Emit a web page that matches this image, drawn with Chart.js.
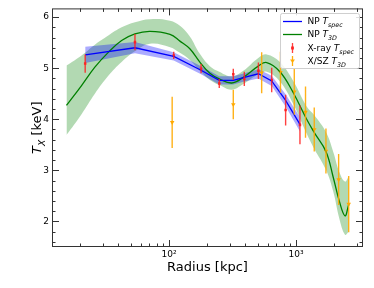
<!DOCTYPE html>
<html><head><meta charset="utf-8">
<script src="https://cdn.jsdelivr.net/npm/chart.js@4.4.1/dist/chart.umd.min.js"></script>
<style>html,body{margin:0;padding:0;background:#fff}canvas{display:block}</style>
</head><body>
<canvas id="c" width="374" height="288"></canvas>
<script>
// ---- data ----
const xrayR   = [21.9, 54, 109, 179, 249, 321, 392, 506, 644, 829, 1075];
const xrayT   = [5.09, 5.51, 5.25, 4.99, 4.70, 4.88, 4.79, 4.95, 4.77, 4.18, 3.89];
const xrayErr = [0.18, 0.16, 0.07, 0.09, 0.09, 0.11, 0.14, 0.16, 0.24, 0.30, 0.38];

const szR   = [106, 321, 537, 755, 970, 1189, 1393, 1722, 2167, 2601];
const szT   = [3.94, 4.29, 4.91, 4.92, 4.54, 4.14, 3.80, 3.38, 2.82, 2.34];
const szErr = [0.50, 0.29, 0.40, 0.40, 0.45, 0.50, 0.43, 0.44, 0.50, 0.55];

const npSpecR   = [21.9, 54, 109, 179, 249, 321, 392, 506, 644, 829, 1075];
const npSpecT   = [5.26, 5.40, 5.23, 4.96, 4.76, 4.76, 4.82, 4.89, 4.75, 4.37, 3.90];
const npSpecErr = [0.16, 0.11, 0.08, 0.08, 0.08, 0.08, 0.08, 0.09, 0.10, 0.12, 0.14];

const np3dR  = [15.6, 20.5, 26.1, 33.3, 42.4, 54.0, 70.9, 102, 122, 146, 175, 210, 249, 312, 385, 505, 588, 748, 952, 1214, 1394, 1723, 1967, 2193, 2432, 2600];
const np3dT  = [4.27, 4.66, 5.02, 5.31, 5.54, 5.67, 5.72, 5.66, 5.53, 5.38, 5.12, 4.90, 4.79, 4.71, 4.82, 5.04, 5.11, 4.93, 4.52, 4.00, 3.74, 3.37, 2.86, 2.40, 2.11, 2.33];
const np3dLo = [3.69, 4.10, 4.50, 4.85, 5.12, 5.33, 5.48, 5.41, 5.30, 5.16, 4.95, 4.77, 4.67, 4.58, 4.69, 4.88, 4.93, 4.74, 4.30, 3.72, 3.42, 3.01, 2.58, 2.06, 1.74, 1.80];
const np3dHi = [5.05, 5.25, 5.46, 5.64, 5.80, 5.90, 5.96, 5.93, 5.83, 5.62, 5.28, 5.04, 4.93, 4.84, 4.95, 5.20, 5.27, 5.12, 4.75, 4.25, 4.08, 3.75, 3.36, 2.97, 2.78, 2.88];

const yTickValues = [2, 3, 4, 5, 6];
const xTickValues = [100, 1000];
const xTickLabels = ['10\u00b2', '10\u00b3'];

// ---- helpers ----
const pts = (xs, ys) => xs.map((v, i) => ({x: v, y: ys[i]}));
const FONT = '"DejaVu Sans", sans-serif';

const xMinor = [];
for (const d of [10, 100, 1000]) for (let k = 2; k <= 9; k++) { const v = k * d; if (v > 12 && v < 3370) xMinor.push(v); }
const yMinor = [];
for (let v = 1.6; v < 6.15; v += 0.2) { const r = Math.round(v * 10) / 10; if (Math.abs(r - Math.round(r)) > 1e-6) yMinor.push(r); }

function drawRich(ctx, x, y, parts, size) {
  let cx = x;
  for (const p of parts) {
    const fs = p.sub ? size * 0.7 : size;
    ctx.font = (p.italic ? 'italic ' : '') + fs + 'px ' + FONT;
    ctx.fillText(p.t, cx, y + (p.sub ? size * 0.28 : 0));
    cx += ctx.measureText(p.t).width;
  }
  return cx - x;
}
function richWidth(ctx, parts, size) {
  let w = 0;
  for (const p of parts) {
    const fs = p.sub ? size * 0.7 : size;
    ctx.font = (p.italic ? 'italic ' : '') + fs + 'px ' + FONT;
    w += ctx.measureText(p.t).width;
  }
  return w;
}

const errBars = {
  id: 'errBars',
  afterDatasetsDraw(chart) {
    const {ctx, scales: {x, y}} = chart;
    const draw = (R, T, E, color) => {
      ctx.save();
      ctx.strokeStyle = color; ctx.lineWidth = 1.4;
      ctx.beginPath();
      R.forEach((r, i) => {
        const px = x.getPixelForValue(r);
        ctx.moveTo(px, y.getPixelForValue(T[i] - E[i]));
        ctx.lineTo(px, y.getPixelForValue(T[i] + E[i]));
      });
      ctx.stroke();
      ctx.restore();
    };
    draw(xrayR, xrayT, xrayErr, 'rgba(255,30,30,0.85)');
    draw(szR, szT, szErr, 'rgba(255,170,0,0.9)');
  }
};

const frame = {
  id: 'frame',
  afterDraw(chart) {
    const {ctx, chartArea: a, scales: {x, y}} = chart;
    ctx.save();
    ctx.strokeStyle = '#333'; ctx.lineWidth = 1;
    ctx.strokeRect(a.left + 0.5, a.top + 0.5, a.right - a.left - 1, a.bottom - a.top - 1);
    ctx.beginPath();
    const xt = (v, L) => { const p = Math.round(x.getPixelForValue(v)) + 0.5;
      ctx.moveTo(p, a.bottom); ctx.lineTo(p, a.bottom - L); ctx.moveTo(p, a.top); ctx.lineTo(p, a.top + L); };
    const yt = (v, L) => { const p = Math.round(y.getPixelForValue(v)) + 0.5;
      ctx.moveTo(a.left, p); ctx.lineTo(a.left + L, p); ctx.moveTo(a.right, p); ctx.lineTo(a.right - L, p); };
    xTickValues.forEach(v => xt(v, 7)); xMinor.forEach(v => xt(v, 3.5));
    yTickValues.forEach(v => yt(v, 7)); yMinor.forEach(v => yt(v, 3.5));
    ctx.stroke();

    // axis titles
    ctx.fillStyle = '#000';
    ctx.textBaseline = 'alphabetic';
    ctx.font = '13px ' + FONT;
    ctx.textAlign = 'center';
    ctx.fillText('Radius [kpc]', (a.left + a.right) / 2, 271);
    ctx.textAlign = 'left';
    const yParts = [{t: 'T', italic: true}, {t: 'X', italic: true, sub: true}, {t: ' [keV]'}];
    ctx.save();
    ctx.translate(41, (a.top + a.bottom) / 2);
    ctx.rotate(-Math.PI / 2);
    const w = richWidth(ctx, yParts, 13);
    drawRich(ctx, -w / 2, 0, yParts, 13);
    ctx.restore();

    // legend
    const lx = 280, ly = 13, lw = 79, lh = 55;
    ctx.fillStyle = 'rgba(255,255,255,0.85)';
    ctx.strokeStyle = '#cfcfcf';
    ctx.beginPath(); ctx.roundRect(lx + 0.5, ly + 0.5, lw, lh, 2); ctx.fill(); ctx.stroke();
    const rows = [
      {y: 21, kind: 'line', color: '#0000ff', parts: [{t: 'NP '}, {t: 'T', italic: true}, {t: 'spec', italic: true, sub: true}]},
      {y: 34, kind: 'line', color: '#008000', parts: [{t: 'NP '}, {t: 'T', italic: true}, {t: '3D', italic: true, sub: true}]},
      {y: 48, kind: 'err', color: 'rgba(255,30,30,0.85)', marker: 'rect', parts: [{t: 'X-ray '}, {t: 'T', italic: true}, {t: 'spec', italic: true, sub: true}]},
      {y: 61, kind: 'err', color: 'rgba(255,170,0,0.95)', marker: 'tri', parts: [{t: 'X/SZ '}, {t: 'T', italic: true}, {t: '3D', italic: true, sub: true}]}
    ];
    for (const r of rows) {
      ctx.strokeStyle = r.color; ctx.fillStyle = r.color;
      if (r.kind === 'line') {
        ctx.lineWidth = 1.3;
        ctx.beginPath(); ctx.moveTo(283, r.y + 0.5); ctx.lineTo(302, r.y + 0.5); ctx.stroke();
      } else {
        ctx.lineWidth = 1.3;
        ctx.beginPath(); ctx.moveTo(292.5, r.y - 5); ctx.lineTo(292.5, r.y + 5); ctx.stroke();
        if (r.marker === 'rect') ctx.fillRect(291, r.y - 1.5, 3, 3);
        else { ctx.beginPath(); ctx.moveTo(290, r.y - 1.5); ctx.lineTo(295, r.y - 1.5); ctx.lineTo(292.5, r.y + 2); ctx.closePath(); ctx.fill(); }
      }
      ctx.fillStyle = '#000';
      drawRich(ctx, 307.5, r.y + 3.3, r.parts, 9);
    }
    ctx.restore();
  }
};

new Chart(document.getElementById('c'), {
  type: 'line',
  data: {
    datasets: [
      {label: 'NP Tspec', data: pts(npSpecR, npSpecT), borderColor: '#0000ff', borderWidth: 1.3, pointRadius: 0, tension: 0, fill: false},
      {label: 'NP T3D', data: pts(np3dR, np3dT), borderColor: '#008000', borderWidth: 1.3, pointRadius: 0, tension: 0.4, fill: false},
      {label: 'X-ray Tspec', data: pts(xrayR, xrayT), showLine: false, pointStyle: 'rect', pointRadius: 1.8, pointBackgroundColor: 'rgba(255,30,30,0.9)', pointBorderWidth: 0, borderColor: 'rgba(0,0,0,0)'},
      {label: 'X/SZ T3D', data: pts(szR, szT), showLine: false, pointStyle: 'triangle', rotation: 180, pointRadius: 2.6, pointBackgroundColor: 'rgba(255,170,0,1)', pointBorderWidth: 0, borderColor: 'rgba(0,0,0,0)'},
      {label: 'spec lo', data: pts(npSpecR, npSpecT.map((t, i) => t - npSpecErr[i])), borderWidth: 0, pointRadius: 0, tension: 0, fill: false},
      {label: 'spec hi', data: pts(npSpecR, npSpecT.map((t, i) => t + npSpecErr[i])), borderWidth: 0, pointRadius: 0, tension: 0, fill: '-1', backgroundColor: 'rgba(0,0,255,0.33)'},
      {label: '3d lo', data: pts(np3dR, np3dLo), borderWidth: 0, pointRadius: 0, tension: 0.4, fill: false},
      {label: '3d hi', data: pts(np3dR, np3dHi), borderWidth: 0, pointRadius: 0, tension: 0.4, fill: '-1', backgroundColor: 'rgba(0,128,0,0.3)'}
    ]
  },
  options: {
    responsive: false,
    animation: false,
    devicePixelRatio: 1,
    layout: {padding: {top: 8, right: 11, left: 0, bottom: 0}},
    plugins: {legend: {display: false}, tooltip: {enabled: false}, filler: {drawTime: 'beforeDatasetsDraw'}},
    scales: {
      x: {
        type: 'logarithmic', min: 12, max: 3371,
        grid: {display: true, drawOnChartArea: false, drawTicks: false},
        border: {display: false},
        afterBuildTicks: s => { s.ticks = xTickValues.map(v => ({value: v})); },
        afterFit: s => { s.height = 41; },
        ticks: {padding: 2, color: '#000', font: {family: FONT, size: 9}, maxRotation: 0, autoSkip: false,
          callback: (v, i) => xTickLabels[i]}
      },
      y: {
        type: 'linear', min: 1.5, max: 6.17,
        grid: {display: true, drawOnChartArea: false, drawTicks: false},
        border: {display: false},
        afterBuildTicks: s => { s.ticks = yTickValues.map(v => ({value: v})); },
        afterFit: s => { s.width = 52; },
        ticks: {padding: 3, color: '#000', font: {family: FONT, size: 9}, callback: v => String(v)}
      }
    }
  },
  plugins: [errBars, frame]
});
</script>
</body></html>
